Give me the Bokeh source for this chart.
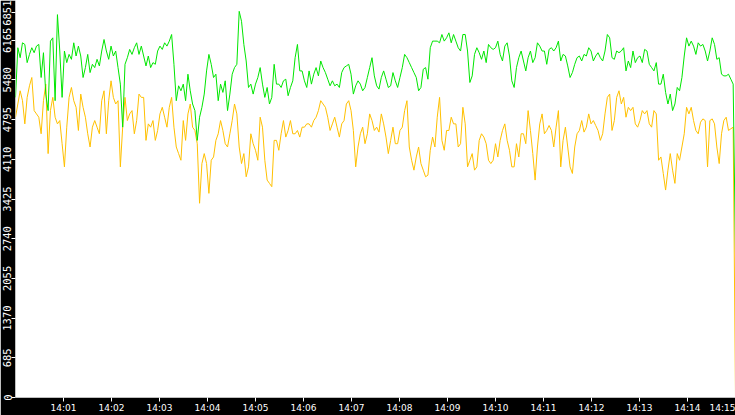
import pandas as pd
from bokeh.plotting import figure
from bokeh.models import FixedTicker, DatetimeTickFormatter, Range1d
from bokeh.embed import file_html
from bokeh.resources import INLINE

# two counters sampled every few seconds between 14:00 and 14:15
green = [
    5179, 6036, 5864, 6121, 6093, 5779, 5921, 6036, 5950, 6064,
    6093, 5522, 5950, 5236, 4951, 6150, 6207, 5122, 6607, 5979,
    5179, 5979, 5779, 5921, 5836, 6121, 5893, 6064, 5893, 5522,
    5693, 5921, 5607, 5750, 5693, 5836, 5722, 5979, 6178, 5979,
    5836, 6064, 5893, 5979, 5693, 5408, 4665, 5750, 5864, 6007,
    5921, 6036, 6121, 5921, 6064, 5893, 5722, 5893, 5693, 5779,
    5750, 5979, 6064, 6007, 6121, 6064, 6150, 6264, 5750, 5122,
    5379, 5293, 5408, 5122, 5579, 5293, 5065, 4951, 4437, 4837,
    5008, 5236, 5636, 5921, 5750, 5522, 5579, 5122, 5408, 5265,
    5465, 4951, 5236, 5579, 5693, 5750, 6664, 6492, 6093, 5807, 5350,
    5408, 5236, 5408, 5522, 5693, 5408, 5179, 5350, 5065, 5179,
    5750, 5408, 5408, 5350, 5465, 5493, 5208, 5350, 5465, 5864,
    6093, 5636, 5636, 5465, 5350, 5636, 5408, 5579, 5693, 5550,
    5807, 5693, 5607, 5493, 5379, 5465, 5379, 5408, 5350, 5607,
    5693, 5722, 5750, 5579, 5236, 5379, 5465, 5408, 5293, 5350, 5522, 5693,
    5864, 5550, 5379, 5322, 5522, 5636, 5493, 5350, 5379, 5607,
    5465, 5350, 5522, 5693, 5921, 5864, 5779, 5693, 5607, 5522,
    5293, 5350, 5665, 5693, 5493, 6036, 6150, 6150, 6150, 6121,
    6264, 6150, 6207, 6293, 6121, 6264, 6150, 6036, 5979, 6264,
    6264, 5979, 5436, 5550, 5921, 6036, 5950, 5836, 5979, 5779, 6093,
    6036, 6007, 6036, 6150, 5921, 5807, 6064, 6121, 5893, 5465,
    5350, 5693, 5864, 5979, 5807, 5636, 5864, 5979, 5779, 5864,
    6121, 6064, 5979, 5979, 5750, 6007, 6036, 5979, 6036, 6150,
    5807, 5921, 5893, 5722, 5522, 5607, 5750, 5864, 5893, 5807,
    5921, 5893, 6036, 5979, 5807, 5893, 5950, 5864, 5807, 5979, 6264, 6207,
    5864, 5836, 5979, 5950, 5979, 6036, 5636, 5807, 5693, 5979,
    5779, 5864, 5893, 5779, 6007, 5979, 5750, 5693, 5636, 5779,
    5408, 5408, 5579, 5265, 5065, 5236, 4951, 5065, 5350, 5293,
    5522, 5893, 6207, 6064, 6150, 6064, 5921, 6121, 6064, 6093,
    5979, 5807, 5979, 6207, 6093, 5836, 5864, 5579, 5550, 5550, 5579, 5493, 5408,
    2470,
]

orange = [
    4837, 5065, 5293, 5122, 4722, 5179, 5379, 5522, 4951, 4894,
    4837, 4551, 5122, 5408, 4209, 4951, 5179, 4837, 4722, 4779,
    4380, 3980, 4665, 5179, 5350, 5122, 5008, 4608, 5236, 5008,
    4837, 4551, 4323, 4665, 4779, 4665, 4551, 5122, 5293, 4551,
    5122, 5465, 5179, 5065, 5122, 3980, 4665, 5179, 4779, 4894,
    4951, 4551, 4779, 5236, 5179, 5179, 4437, 4722, 4665, 4779,
    4437, 4608, 4894, 5008, 4837, 4665, 5008, 5179, 4665, 4323,
    4209, 4094, 4779, 4437, 4894, 5065, 4665, 4608, 4380, 3352,
    4037, 4209, 4037, 3523, 4094, 4151, 4437, 4551, 4779, 4608,
    4380, 4323, 4551, 4779, 5065, 4894, 4323, 4037, 4209, 3809, 3980,
    4551, 4380, 4266, 4094, 4837, 4665, 4094, 3752, 3695, 3638,
    4437, 4437, 4266, 4551, 4779, 4494, 4608, 4779, 4551, 4551,
    4608, 4494, 4665, 4665, 4722, 4722, 4665, 4779, 4837, 4951,
    5122, 5065, 5008, 4837, 4608, 4722, 4837, 4665, 4494, 4722,
    4779, 5065, 5122, 4951, 4608, 3980, 4323, 4551, 4665, 4380, 4551, 4894,
    4779, 4608, 4665, 4580, 4894, 4722, 4494, 4209, 4437, 4665,
    4380, 4380, 4608, 4665, 4951, 5122, 4323, 4094, 3923, 4151,
    4323, 4037, 3923, 3809, 3837, 4266, 4494, 4323, 4837, 5179,
    4437, 4266, 4608, 4608, 4837, 4722, 4722, 4323, 4380, 5008,
    4722, 3980, 4094, 4209, 3923, 3980, 4437, 4551, 4494, 4380, 4094,
    4037, 4094, 4380, 4151, 4437, 4608, 4722, 4437, 4266, 3980,
    3980, 4380, 4151, 4551, 4551, 4380, 4951, 4608, 4209, 3752,
    4323, 4722, 4894, 4551, 4608, 4694, 4608, 4323, 4665, 4951,
    3980, 4437, 4665, 4323, 3980, 3866, 4323, 4551, 4608, 4779,
    4580, 4665, 4894, 4722, 4779, 4694, 4608, 4437, 4551, 4894, 5179, 5236,
    4608, 4779, 5179, 5293, 5065, 5179, 4837, 5008, 4951, 5008,
    4722, 4665, 4779, 4951, 4894, 4951, 4722, 4665, 4951, 4894,
    4094, 4151, 3866, 3580, 3923, 4209, 3923, 3695, 4209, 4094,
    4323, 4551, 5008, 4894, 5008, 4779, 4608, 4551, 4751, 4808,
    4779, 3980, 4779, 4808, 4722, 4323, 4037, 4551, 4779, 4837, 4608, 4637, 4665,
    0,
]

y_ticks = [0, 685, 1370, 2055, 2740, 3425, 4110, 4795, 5480, 6165]
y_max = 6851
# the max label is drawn a little below the frame top so that it stays readable
y_max_label_at = 6640

t_start = pd.Timestamp("2024-01-01 14:00:00")
t_end = pd.Timestamp("2024-01-01 14:15:00")
times = pd.date_range(t_start, t_end, periods=len(green))
minute_ticks = pd.date_range("2024-01-01 14:01:00", "2024-01-01 14:15:00", freq="1min")


def to_ms(t):
    return t.value / 1e6


p = figure(width=735, height=415, x_axis_type="datetime",
           x_range=Range1d(to_ms(t_start), to_ms(t_end)), y_range=Range1d(0, y_max),
           output_backend="svg", toolbar_location=None,
           min_border_left=0, min_border_right=0, min_border_top=0, min_border_bottom=0,
           styles={"position": "absolute", "left": "0px", "top": "0px"})

p.background_fill_color = "white"
p.border_fill_color = "black"
p.outline_line_color = None
p.grid.visible = False

p.line(times, orange, color="#ffc000", line_width=1)
p.line(times, green, color="#00e600", line_width=1)

p.xaxis.ticker = FixedTicker(ticks=[to_ms(t) for t in minute_ticks])
hm = "%H:%M"
p.xaxis.formatter = DatetimeTickFormatter(seconds=hm, minsec=hm, minutes=hm, hourmin=hm,
                                          hours=hm, days=hm, milliseconds=hm)
p.yaxis.ticker = FixedTicker(ticks=y_ticks + [y_max_label_at])
p.yaxis.major_label_overrides = {y_max_label_at: str(y_max)}
p.yaxis.major_label_orientation = "vertical"

for ax in (p.xaxis, p.yaxis):
    ax.axis_line_color = None
    ax.major_tick_line_color = "white"
    ax.major_tick_in = 0
    ax.minor_tick_line_color = None
    ax.major_label_text_color = "white"

p.xaxis.major_tick_out = 4
p.xaxis.major_label_standoff = 1
p.xaxis.major_label_text_font = "DejaVu Sans"
p.xaxis.major_label_text_font_size = "9px"

p.yaxis.major_tick_out = 4
p.yaxis.major_label_standoff = 0
p.yaxis.major_label_text_font = "DejaVu Sans Mono"
p.yaxis.major_label_text_font_size = "10.5px"

open("out.html", "w").write(file_html(p, INLINE))
